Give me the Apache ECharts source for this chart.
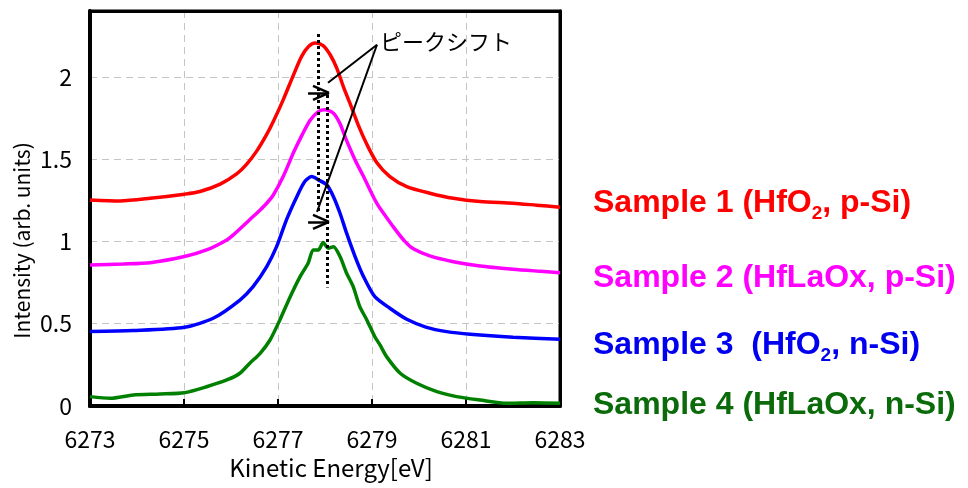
<!DOCTYPE html>
<html>
<head>
<meta charset="utf-8">
<title>Peak shift</title>
<script src="https://cdn.jsdelivr.net/npm/echarts@6/dist/echarts.min.js"></script>
<style>
  html, body { margin: 0; padding: 0; background: #fff; }
  #chart { width: 968px; height: 488px; }
</style>
</head>
<body>
<div id="chart"></div>
<script>
// values, [energy eV, intensity]
const sample1 = [
  [6273.00, 1.252], [6273.64, 1.246], [6274.28, 1.262], [6275.01, 1.287], [6275.34, 1.303],
  [6275.77, 1.348], [6276.12, 1.410], [6276.33, 1.468], [6276.55, 1.550], [6276.76, 1.650],
  [6276.90, 1.728], [6277.11, 1.860], [6277.33, 2.012], [6277.50, 2.123], [6277.65, 2.184],
  [6277.79, 2.205], [6277.96, 2.190], [6278.11, 2.134], [6278.25, 2.053], [6278.39, 1.941],
  [6278.53, 1.840], [6278.71, 1.705], [6278.89, 1.590], [6279.10, 1.480], [6279.38, 1.394],
  [6279.74, 1.333], [6280.23, 1.293], [6280.73, 1.262], [6281.30, 1.242], [6282.00, 1.232],
  [6282.50, 1.220], [6283.00, 1.208]
];
const sample2 = [
  [6273.00, 0.857], [6273.71, 0.863], [6274.28, 0.871], [6275.01, 0.908], [6275.48, 0.948],
  [6275.91, 1.009], [6276.05, 1.040], [6276.47, 1.151], [6276.62, 1.191], [6276.76, 1.232],
  [6276.90, 1.282], [6277.11, 1.394], [6277.33, 1.540], [6277.50, 1.640], [6277.68, 1.735],
  [6277.86, 1.789], [6278.00, 1.800], [6278.18, 1.779], [6278.32, 1.715], [6278.46, 1.612],
  [6278.64, 1.495], [6278.82, 1.394], [6279.10, 1.232], [6279.45, 1.090], [6279.70, 1.000],
  [6279.88, 0.955], [6280.23, 0.912], [6280.73, 0.877], [6281.30, 0.851], [6282.00, 0.831],
  [6282.50, 0.820], [6283.00, 0.810]
];
const sample3 = [
  [6273.00, 0.452], [6273.92, 0.458], [6275.01, 0.478], [6275.62, 0.533], [6276.19, 0.644],
  [6276.47, 0.725], [6276.76, 0.847], [6276.97, 0.968], [6277.18, 1.131], [6277.40, 1.272],
  [6277.57, 1.364], [6277.72, 1.394], [6277.86, 1.374], [6278.04, 1.343], [6278.18, 1.272],
  [6278.32, 1.171], [6278.46, 1.050], [6278.64, 0.908], [6278.82, 0.786], [6279.06, 0.664],
  [6279.38, 0.594], [6279.74, 0.527], [6280.16, 0.478], [6280.59, 0.452], [6281.09, 0.436],
  [6282.00, 0.418], [6283.00, 0.405]
];
const sample4 = [
  [6273.00, 0.057], [6273.43, 0.047], [6273.92, 0.067], [6274.49, 0.073], [6275.01, 0.081],
  [6275.48, 0.117], [6275.91, 0.158], [6276.19, 0.199], [6276.40, 0.260], [6276.62, 0.320],
  [6276.83, 0.401], [6277.04, 0.523], [6277.26, 0.664], [6277.47, 0.786], [6277.64, 0.867],
  [6277.75, 0.948], [6277.86, 0.948], [6277.96, 0.993], [6278.07, 0.959], [6278.18, 0.968],
  [6278.32, 0.908], [6278.46, 0.807], [6278.60, 0.725], [6278.74, 0.604], [6278.89, 0.523],
  [6279.06, 0.421], [6279.17, 0.371], [6279.31, 0.300], [6279.60, 0.199], [6279.95, 0.138],
  [6280.38, 0.087], [6280.80, 0.057], [6281.30, 0.036], [6281.87, 0.016], [6282.43, 0.020],
  [6283.00, 0.016]
];

const sampleNames = [
  '{m|Sample 1 (HfO}{s|2}{m|, p-Si)}',
  '{m|Sample 2 (HfLaOx, p-Si)}',
  '{m|Sample 3  (HfO}{s|2}{m|, n-Si)}',
  '{m|Sample 4 (HfLaOx, n-Si)}'
];
const lineColors = ['#ff0000', '#ff00ff', '#0000ff', '#008000'];
const labelColors = ['#ff0000', '#ff00ff', '#0000ee', '#0b6b0b'];

// annotation: dotted peak positions, shift arrows, pointer lines
const peakLines = [
  [[6277.85, 2.26], [6277.85, 1.17]],
  [[6278.04, 1.89], [6278.04, 0.72]]
];
const arrowLines = [
  [[6277.64, 1.903], [6278.085, 1.903]],
  [[6277.745, 1.945], [6278.085, 1.903]],
  [[6277.745, 1.860], [6278.085, 1.903]],
  [[6277.64, 1.119], [6278.085, 1.119]],
  [[6277.745, 1.161], [6278.085, 1.119]],
  [[6277.745, 1.076], [6278.085, 1.119]]
];
const pointerLines = [
  [[6279.106, 2.195], [6278.064, 1.964]],
  [[6279.106, 2.195], [6277.83, 1.179]]
];

const chart = echarts.init(document.getElementById('chart'));

function toMark(list, style) {
  return list.map(function (p) {
    return [{ coord: p[0], lineStyle: style }, { coord: p[1] }];
  });
}

const axisFont = 'Noto Sans CJK JP';
const gridDash = { color: '#c4c4c4', width: 1, type: [7, 5] };

const series = [sample1, sample2, sample3, sample4].map(function (d, i) {
  return {
    type: 'line',
    data: d,
    showSymbol: false,
    smooth: 0.25,
    lineStyle: { color: lineColors[i], width: 3.5 },
    z: 2
  };
});

series.push({
  type: 'line',
  data: [],
  markLine: {
    silent: true,
    symbol: ['none', 'none'],
    label: { show: false },
    animation: false,
    data: []
      .concat(toMark(peakLines, { color: '#000', width: 3, type: [3, 3] }))
      .concat(toMark(arrowLines, { color: '#000', width: 2.5, type: 'solid' }))
      .concat(toMark(pointerLines, { color: '#000', width: 2, type: 'solid' }))
  },
  z: 5
});

// plain frame axes on top / right
const frameAxis = {
  type: 'value',
  axisLine: { show: true, onZero: false, lineStyle: { color: '#000', width: 3 } },
  axisTick: { show: false },
  axisLabel: { show: false },
  splitLine: { show: false }
};

chart.setOption({
  animation: false,
  grid: {
    left: 90, right: 408, top: 11, bottom: 82,
    show: true, borderColor: '#000', borderWidth: 3
  },
  xAxis: [{
    type: 'value',
    min: 6273, max: 6283, interval: 2,
    name: 'Kinetic Energy[eV]',
    nameLocation: 'middle',
    nameGap: 45,
    nameTextStyle: { fontFamily: axisFont, fontSize: 24, color: '#000', padding: [0, 0, 0, 12] },
    axisLine: { onZero: false, lineStyle: { color: '#000', width: 4 } },
    axisTick: { inside: true, length: 7, lineStyle: { color: '#000', width: 2 } },
    axisLabel: {
      fontFamily: axisFont, fontSize: 23, color: '#000', margin: 22,
      formatter: function (v) { return String(v); }
    },
    splitLine: { show: true, showMinLine: false, showMaxLine: false, lineStyle: gridDash }
  }, Object.assign({ position: 'top', min: 6273, max: 6283 }, frameAxis)],
  yAxis: [{
    type: 'value',
    min: 0, max: 2.4, interval: 0.5,
    name: 'Intensity (arb. units)',
    nameLocation: 'middle',
    nameGap: 57,
    nameTextStyle: { fontFamily: axisFont, fontSize: 21, color: '#000', padding: [0, 64, 0, 0] },
    axisLine: { onZero: false, lineStyle: { color: '#000', width: 4 } },
    axisTick: { show: false },
    axisLabel: { fontFamily: axisFont, fontSize: 23, color: '#000', margin: 18, showMaxLabel: false },
    splitLine: { show: true, showMinLine: false, showMaxLine: false, lineStyle: gridDash }
  }, Object.assign({ position: 'right', min: 0, max: 2.4 }, frameAxis)],
  series: series,
  graphic: [
    {
      type: 'text', left: 380, top: 31,
      style: { text: 'ピークシフト', font: '22px "Noto Sans CJK JP"', fill: '#000' }
    }
  ].concat(sampleNames.map(function (t, i) {
    return {
      type: 'text',
      x: 593,
      y: [203, 278, 345, 405][i],
      style: {
        text: t,
        fill: labelColors[i],
        verticalAlign: 'middle',
        rich: {
          m: { fontFamily: 'Liberation Sans', fontWeight: 'bold', fontSize: 32, lineHeight: 40, fill: labelColors[i] },
          s: { fontFamily: 'Liberation Sans', fontWeight: 'bold', fontSize: 19, lineHeight: 19, verticalAlign: 'bottom', fill: labelColors[i] }
        }
      }
    };
  }))
});
</script>
</body>
</html>
